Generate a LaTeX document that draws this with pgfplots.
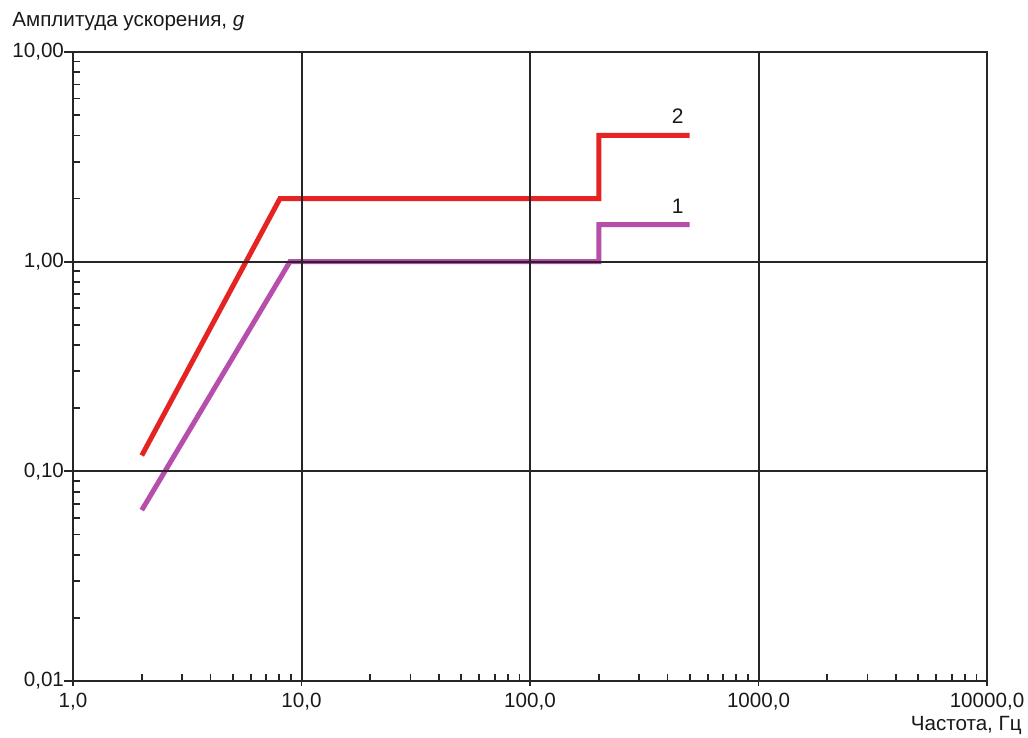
\documentclass[border=0pt]{standalone}
\usepackage{pgfplots}
\pgfplotsset{compat=1.18}
\usepackage{fontspec}
\setmainfont{Liberation Sans}
\definecolor{cred}{RGB}{230,35,35}
\definecolor{cpurple}{RGB}{182,78,172}
\begin{document}
\begin{tikzpicture}[x=1pt,y=1pt]
\begin{axis}[
  at={(0pt,0pt)}, anchor=south west,
  scale only axis,
  width=457pt, height=314.5pt,
  xmode=log, ymode=log,
  xmin=1, xmax=10000, ymin=0.01, ymax=10,
  xtick={1,10,100,1000,10000},
  xticklabels={1{,}0,10{,}0,100{,}0,1000{,}0,10000{,}0},
  ytick={0.01,0.1,1,10},
  yticklabels={0{,}01,0{,}10,1{,}00,10{,}00},
  /pgf/number format/assume math mode=true,
  xtick pos=bottom, ytick pos=left,
  tick align=inside,
  major tick length=0pt,
  minor tick length=3.3pt,
  grid=major,
  axis on top,
  major grid style={black!85, line width=1pt},
  axis line style={black!85, line width=1.2pt},
  every tick/.style={black!85, line width=0.9pt},
  extra x ticks={1,10,100,1000,10000},
  extra x tick labels={},
  extra x tick style={tick align=outside, major tick length=2.5pt, grid=none},
  extra y ticks={0.01,0.1,1,10},
  extra y tick labels={},
  extra y tick style={tick align=outside, major tick length=4.5pt, grid=none},
  tick label style={font=\fontsize{10.3}{12}\selectfont, text=black!90},
  xticklabel style={yshift=-2.5pt},
  yticklabel style={xshift=-1pt},
  clip=false,
]
\addplot[cred, line width=2.5pt] coordinates {(2,0.119) (8.05,2.0) (200,2.0) (200,4.0) (500,4.0)};
\addplot[cpurple, line width=2.5pt] coordinates {(2,0.0653) (8.9,1.0) (200,1.0) (200,1.5) (500,1.5)};
\node[font=\fontsize{10.5}{12}\selectfont, text=black!90] at (axis cs:443,4.95) {2};
\node[font=\fontsize{10.5}{12}\selectfont, text=black!90] at (axis cs:443,1.84) {1};
\end{axis}
\node[anchor=west, inner sep=0pt, font=\fontsize{10.3}{12}\selectfont, text=black!90] at (-30.5,329.5) {Амплитуда ускорения, \textit{g}};
\node[anchor=east, inner sep=0pt, font=\fontsize{10.3}{12}\selectfont, text=black!90] at (474.5,-22) {Частота, Гц};
\pgfresetboundingbox
\useasboundingbox (-36.5,-28.5) rectangle (477.5,340.5);
\end{tikzpicture}
\end{document}
